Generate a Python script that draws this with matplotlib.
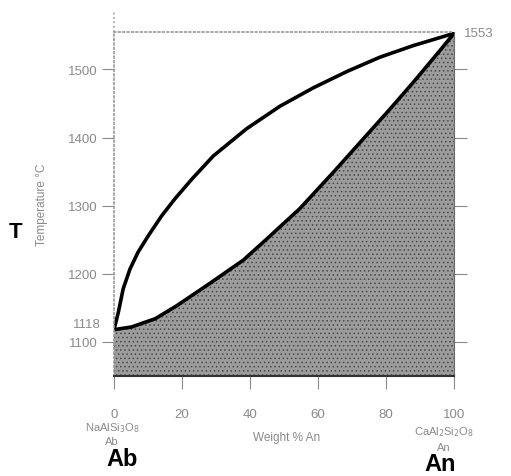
"""Plagioclase (Ab-An) binary phase diagram: liquidus and solidus loops."""

import matplotlib
matplotlib.use("Agg")
import matplotlib.pyplot as plt

plt.rcParams["font.family"] = ["Liberation Sans", "DejaVu Sans"]
plt.rcParams["hatch.linewidth"] = 0.6

# liquidus (upper curve), weight % An vs T (deg C)
x_liq = [0, 0.5, 1.3, 2.7, 4.7, 7.1, 10.1, 14, 17.9, 22.9, 29.2, 39, 48.8,
         58.6, 68.5, 78.2, 88, 100]
T_liq = [1118, 1128, 1144, 1178, 1207, 1232, 1256, 1285, 1310, 1339, 1373,
         1413, 1446, 1473, 1497, 1518, 1535, 1553]

# solidus (lower curve)
x_sol = [0, 5.2, 8.6, 12.1, 18.4, 28.2, 38, 44.9, 54.7, 64.5, 73.3, 81.2,
         88, 95.9, 100]
T_sol = [1118, 1122, 1128, 1134, 1153, 1186, 1220, 1251, 1296, 1349, 1398,
         1442, 1481, 1528, 1553]

y_ticks = [1100, 1200, 1300, 1400, 1500]
x_ticks = [0, 20, 40, 60, 80, 100]
T_ab, T_an = 1118, 1553

W, H = 511, 477
GREY = "#8a8a8a"


def fx(px):
    return px / W


def fy(py):
    return 1 - py / H


fig = plt.figure(figsize=(W / 100, H / 100), dpi=100)
ax = fig.add_axes([fx(114), fy(377), (454 - 114) / W, (377 - 33) / H])
ax.set_xlim(0, 100)
ax.set_ylim(1050, 1555)

# solid field
ax.fill_between(x_sol, 1050, T_sol, facecolor="#9c9c9c", edgecolor="#4a4a4a",
                hatch="....", linewidth=0)
ax.plot(x_liq, T_liq, color="black", lw=2.6, solid_joinstyle="round",
        solid_capstyle="round")
ax.plot(x_sol, T_sol, color="black", lw=2.6, solid_joinstyle="round",
        solid_capstyle="round")

for side in ["left", "top"]:
    ax.spines[side].set_color("#9a9a9a")
    ax.spines[side].set_linestyle(":")
    ax.spines[side].set_linewidth(1.2)
ax.spines["right"].set_color("#6a6a6a")
ax.spines["bottom"].set_color("#333333")
ax.spines["bottom"].set_linewidth(1.5)

# left spine runs a bit above the frame
ax.plot([0, 0], [1555, 1585], color="#9a9a9a", ls=":", lw=1.2, clip_on=False)

ax.set_yticks(y_ticks)
ax.set_yticklabels([str(v) for v in y_ticks])
ax.set_xticks(x_ticks)
ax.set_xticklabels([str(v) for v in x_ticks])
ax.tick_params(axis="y", direction="out", length=9, width=0.8, color=GREY,
               labelcolor=GREY, labelsize=9.5, pad=3, right=True)
ax.tick_params(axis="x", direction="out", length=9, width=0.8, color=GREY,
               labelcolor=GREY, labelsize=9.5, pad=14)

ax.text(-4, 1127, str(T_ab), ha="right", va="center", color=GREY,
        fontsize=9.5, clip_on=False)
ax.text(103, T_an, str(T_an), ha="left", va="center", color=GREY,
        fontsize=9.5, clip_on=False)

ax.set_ylabel("Temperature °C", color=GREY, fontsize=8.5, labelpad=14)

# end-member labels
fig.text(fx(112), fy(428), "NaAlSi$_3$O$_8$", ha="center", va="center",
         color=GREY, fontsize=8)
fig.text(fx(112), fy(442), "Ab", ha="center", va="center", color=GREY,
         fontsize=8)
fig.text(fx(444), fy(432), "CaAl$_2$Si$_2$O$_8$", ha="center", va="center",
         color=GREY, fontsize=8)
fig.text(fx(444), fy(448), "An", ha="center", va="center", color=GREY,
         fontsize=8)
fig.text(fx(287), fy(438), "Weight % An", ha="center", va="center",
         color=GREY, fontsize=8.5)

fig.text(fx(122), fy(460), "Ab", ha="center", va="center", color="black",
         fontsize=17, fontweight="bold")
fig.text(fx(440), fy(465), "An", ha="center", va="center", color="black",
         fontsize=17, fontweight="bold")
fig.text(fx(16), fy(232), "T", ha="center", va="center", color="black",
         fontsize=16, fontweight="bold")

fig.savefig("out.png", dpi=100)
